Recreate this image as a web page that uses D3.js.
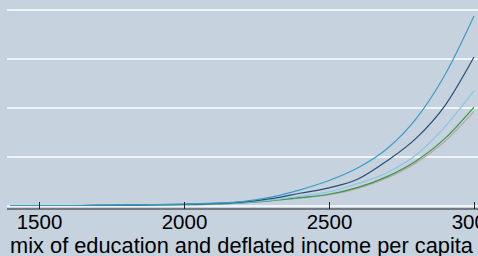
<!DOCTYPE html>
<html>
<head>
<meta charset="utf-8">
<script src="https://cdn.jsdelivr.net/npm/d3@7"></script>
<style>
  html, body { margin: 0; padding: 0; background: #c6d3df; overflow: hidden; }
  svg { display: block; font-family: "Liberation Sans", Arial, sans-serif; }
</style>
</head>
<body>
<div id="chart"></div>
<script>
// x values (mix of education and deflated income per capita)
const xs = [1400, 1500, 1600, 1700, 1800, 1900, 2000, 2100, 2200, 2300, 2400, 2500, 2600, 2700, 2800, 2900, 3000]

// series (y axis units = one gridline step)
const seriesGray  = [0.01, 0.01, 0.01, 0.011, 0.014, 0.019, 0.026, 0.038, 0.062, 0.105, 0.16, 0.23, 0.36, 0.57, 0.88, 1.32, 1.93]
const seriesGreen = [0.01, 0.01, 0.01, 0.012, 0.015, 0.02, 0.028, 0.04, 0.065, 0.11, 0.17, 0.24, 0.38, 0.6, 0.92, 1.38, 2.02]
const seriesLight = [0.01, 0.01, 0.01, 0.012, 0.015, 0.02, 0.03, 0.045, 0.07, 0.12, 0.2, 0.29, 0.46, 0.68, 1.04, 1.62, 2.35]
const seriesNavy  = [0.01, 0.01, 0.01, 0.012, 0.017, 0.025, 0.035, 0.05, 0.08, 0.15, 0.26, 0.37, 0.55, 0.92, 1.38, 2.05, 3.04]
const seriesTop   = [0.01, 0.01, 0.01, 0.015, 0.02, 0.03, 0.04, 0.06, 0.09, 0.18, 0.33, 0.52, 0.78, 1.17, 1.78, 2.68, 3.88]

const xTicks = [1500, 2000, 2500, 3000]
const yGrid = [0, 1, 2, 3, 4]
const xTitle = 'mix of education and deflated income per capita'

const width = 478
const height = 256
const left = 7

const series = [
  { values: seriesGray, color: '#bfa3a6' },
  { values: seriesGreen, color: '#2f9a43' },
  { values: seriesLight, color: '#8ec3e8' },
  { values: seriesNavy, color: '#2a4d74' },
  { values: seriesTop, color: '#3a9cc9' }
]

const x = d3.scaleLinear().domain([1500, 3000]).range([39, 474])
const y = d3.scaleLinear().domain([0, 4]).range([206, 10])

const svg = d3.select('#chart')
  .append('svg')
    .attr('width', width)
    .attr('height', height)

svg.append('rect')
  .attr('width', width)
  .attr('height', height)
  .attr('fill', '#c6d3df')

// gridlines
svg.append('g')
  .selectAll('line')
  .data(yGrid)
  .enter()
  .append('line')
    .attr('x1', left)
    .attr('x2', width)
    .attr('y1', d => y(d))
    .attr('y2', d => y(d))
    .attr('stroke', '#ffffff')
    .attr('stroke-width', 1.4)

// lines
const line = d3.line()
  .x((d, i) => x(xs[i]))
  .y(d => y(d))
  .curve(d3.curveMonotoneX)

svg.append('g')
  .selectAll('path')
  .data(series)
  .enter()
  .append('path')
    .attr('d', d => line(d.values))
    .attr('fill', 'none')
    .attr('stroke', d => d.color)
    .attr('stroke-width', 1.2)

// x axis
const axisY = 209
const axis = svg.append('g')
  .attr('transform', `translate(0,${axisY})`)
  .call(d3.axisBottom(x).tickValues(xTicks).tickSizeInner(-7).tickSizeOuter(0).tickFormat(d3.format('d')))

axis.select('.domain').remove()
axis.append('line')
  .attr('x1', left)
  .attr('x2', width)
  .attr('stroke', '#222')
  .attr('stroke-width', 1.2)

axis.selectAll('.tick line')
  .attr('stroke', '#222')
  .attr('stroke-width', 1)

axis.selectAll('.tick text')
  .attr('y', 20)
  .attr('dy', 0)
  .attr('fill', '#000')
  .style('font-size', '20.5px')
  .style('font-family', '"Liberation Sans", Arial, sans-serif')

svg.append('text')
  .attr('x', 241.5)
  .attr('y', 252.5)
  .attr('text-anchor', 'middle')
  .style('font-size', '21.8px')
  .style('fill', '#000')
  .text(xTitle)
</script>
</body>
</html>
